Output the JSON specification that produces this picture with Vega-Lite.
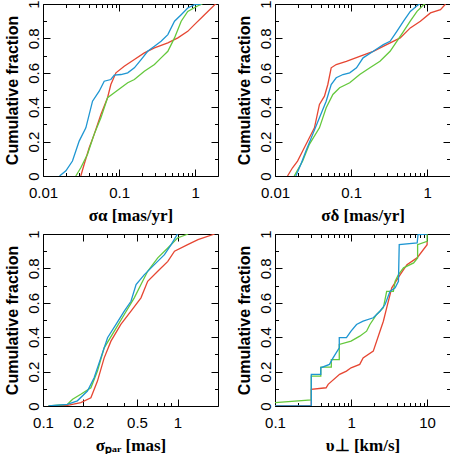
{
"$schema":"https://vega.github.io/schema/vega-lite/v6.json",
"autosize":{"type":"pad"},
"padding":{"left":3,"top":-1,"right":0,"bottom":0},
"background":"white",
"data":{"values":[
{"p":1,"s":"r","i":0,"x":0.0314,"y":0},{"p":1,"s":"r","i":1,"x":0.0348,"y":0.068},{"p":1,"s":"r","i":2,"x":0.0405,"y":0.164},{"p":1,"s":"r","i":3,"x":0.0471,"y":0.242},{"p":1,"s":"r","i":4,"x":0.0577,"y":0.358},{"p":1,"s":"r","i":5,"x":0.0706,"y":0.455},{"p":1,"s":"r","i":6,"x":0.078,"y":0.532},{"p":1,"s":"r","i":7,"x":0.091,"y":0.6},{"p":1,"s":"r","i":8,"x":0.117,"y":0.638},{"p":1,"s":"r","i":9,"x":0.159,"y":0.677},{"p":1,"s":"r","i":10,"x":0.215,"y":0.716},{"p":1,"s":"r","i":11,"x":0.292,"y":0.745},{"p":1,"s":"r","i":12,"x":0.438,"y":0.774},{"p":1,"s":"r","i":13,"x":0.593,"y":0.803},{"p":1,"s":"r","i":14,"x":0.8,"y":0.841},{"p":1,"s":"r","i":15,"x":0.98,"y":0.88},{"p":1,"s":"r","i":16,"x":1.33,"y":0.938},{"p":1,"s":"r","i":17,"x":1.81,"y":0.996},{"p":1,"s":"r","i":18,"x":1.9,"y":1},
{"p":1,"s":"g","i":0,"x":0.027,"y":0},{"p":1,"s":"g","i":1,"x":0.0314,"y":0.048},{"p":1,"s":"g","i":2,"x":0.0385,"y":0.126},{"p":1,"s":"g","i":3,"x":0.047,"y":0.242},{"p":1,"s":"g","i":4,"x":0.0577,"y":0.338},{"p":1,"s":"g","i":5,"x":0.0706,"y":0.455},{"p":1,"s":"g","i":6,"x":0.0865,"y":0.484},{"p":1,"s":"g","i":7,"x":0.106,"y":0.513},{"p":1,"s":"g","i":8,"x":0.13,"y":0.542},{"p":1,"s":"g","i":9,"x":0.159,"y":0.561},{"p":1,"s":"g","i":10,"x":0.215,"y":0.609},{"p":1,"s":"g","i":11,"x":0.292,"y":0.648},{"p":1,"s":"g","i":12,"x":0.357,"y":0.687},{"p":1,"s":"g","i":13,"x":0.438,"y":0.725},{"p":1,"s":"g","i":14,"x":0.536,"y":0.803},{"p":1,"s":"g","i":15,"x":0.656,"y":0.9},{"p":1,"s":"g","i":16,"x":0.8,"y":0.957},{"p":1,"s":"g","i":17,"x":1.09,"y":0.99},{"p":1,"s":"g","i":18,"x":1.25,"y":1},
{"p":1,"s":"b","i":0,"x":0.0165,"y":0},{"p":1,"s":"b","i":1,"x":0.02,"y":0.03},{"p":1,"s":"b","i":2,"x":0.0244,"y":0.087},{"p":1,"s":"b","i":3,"x":0.0299,"y":0.203},{"p":1,"s":"b","i":4,"x":0.0366,"y":0.28},{"p":1,"s":"b","i":5,"x":0.0448,"y":0.435},{"p":1,"s":"b","i":6,"x":0.0548,"y":0.493},{"p":1,"s":"b","i":7,"x":0.0638,"y":0.551},{"p":1,"s":"b","i":8,"x":0.078,"y":0.561},{"p":1,"s":"b","i":9,"x":0.0865,"y":0.586},{"p":1,"s":"b","i":10,"x":0.106,"y":0.59},{"p":1,"s":"b","i":11,"x":0.13,"y":0.6},{"p":1,"s":"b","i":12,"x":0.159,"y":0.629},{"p":1,"s":"b","i":13,"x":0.195,"y":0.677},{"p":1,"s":"b","i":14,"x":0.238,"y":0.725},{"p":1,"s":"b","i":15,"x":0.292,"y":0.754},{"p":1,"s":"b","i":16,"x":0.357,"y":0.783},{"p":1,"s":"b","i":17,"x":0.438,"y":0.822},{"p":1,"s":"b","i":18,"x":0.536,"y":0.9},{"p":1,"s":"b","i":19,"x":0.656,"y":0.938},{"p":1,"s":"b","i":20,"x":0.8,"y":0.977},{"p":1,"s":"b","i":21,"x":0.98,"y":0.996},{"p":1,"s":"b","i":22,"x":1.2,"y":1},
{"p":2,"s":"r","i":0,"x":0.0146,"y":0},{"p":2,"s":"r","i":1,"x":0.017,"y":0.048},{"p":2,"s":"r","i":2,"x":0.0198,"y":0.087},{"p":2,"s":"r","i":3,"x":0.0231,"y":0.145},{"p":2,"s":"r","i":4,"x":0.0283,"y":0.222},{"p":2,"s":"r","i":5,"x":0.033,"y":0.28},{"p":2,"s":"r","i":6,"x":0.0384,"y":0.416},{"p":2,"s":"r","i":7,"x":0.0447,"y":0.464},{"p":2,"s":"r","i":8,"x":0.0495,"y":0.532},{"p":2,"s":"r","i":9,"x":0.0548,"y":0.629},{"p":2,"s":"r","i":10,"x":0.0638,"y":0.648},{"p":2,"s":"r","i":11,"x":0.0867,"y":0.667},{"p":2,"s":"r","i":12,"x":0.13,"y":0.696},{"p":2,"s":"r","i":13,"x":0.196,"y":0.725},{"p":2,"s":"r","i":14,"x":0.294,"y":0.764},{"p":2,"s":"r","i":15,"x":0.443,"y":0.803},{"p":2,"s":"r","i":16,"x":0.601,"y":0.861},{"p":2,"s":"r","i":17,"x":0.816,"y":0.9},{"p":2,"s":"r","i":18,"x":1.107,"y":0.948},{"p":2,"s":"r","i":19,"x":1.5,"y":0.967},{"p":2,"s":"r","i":20,"x":1.75,"y":1},
{"p":2,"s":"g","i":0,"x":0.0179,"y":0},{"p":2,"s":"g","i":1,"x":0.0231,"y":0.087},{"p":2,"s":"g","i":2,"x":0.0283,"y":0.184},{"p":2,"s":"g","i":3,"x":0.0384,"y":0.28},{"p":2,"s":"g","i":4,"x":0.0471,"y":0.397},{"p":2,"s":"g","i":5,"x":0.0577,"y":0.474},{"p":2,"s":"g","i":6,"x":0.0707,"y":0.513},{"p":2,"s":"g","i":7,"x":0.096,"y":0.542},{"p":2,"s":"g","i":8,"x":0.13,"y":0.59},{"p":2,"s":"g","i":9,"x":0.177,"y":0.629},{"p":2,"s":"g","i":10,"x":0.24,"y":0.667},{"p":2,"s":"g","i":11,"x":0.326,"y":0.725},{"p":2,"s":"g","i":12,"x":0.4,"y":0.783},{"p":2,"s":"g","i":13,"x":0.49,"y":0.841},{"p":2,"s":"g","i":14,"x":0.6,"y":0.9},{"p":2,"s":"g","i":15,"x":0.737,"y":0.957},{"p":2,"s":"g","i":16,"x":0.9,"y":0.996},{"p":2,"s":"g","i":17,"x":0.95,"y":1},
{"p":2,"s":"b","i":0,"x":0.0188,"y":0},{"p":2,"s":"b","i":1,"x":0.0219,"y":0.068},{"p":2,"s":"b","i":2,"x":0.0255,"y":0.145},{"p":2,"s":"b","i":3,"x":0.0313,"y":0.242},{"p":2,"s":"b","i":4,"x":0.0384,"y":0.338},{"p":2,"s":"b","i":5,"x":0.0471,"y":0.435},{"p":2,"s":"b","i":6,"x":0.0548,"y":0.532},{"p":2,"s":"b","i":7,"x":0.0638,"y":0.571},{"p":2,"s":"b","i":8,"x":0.0783,"y":0.59},{"p":2,"s":"b","i":9,"x":0.096,"y":0.6},{"p":2,"s":"b","i":10,"x":0.118,"y":0.629},{"p":2,"s":"b","i":11,"x":0.144,"y":0.687},{"p":2,"s":"b","i":12,"x":0.196,"y":0.725},{"p":2,"s":"b","i":13,"x":0.266,"y":0.764},{"p":2,"s":"b","i":14,"x":0.326,"y":0.783},{"p":2,"s":"b","i":15,"x":0.4,"y":0.841},{"p":2,"s":"b","i":16,"x":0.49,"y":0.9},{"p":2,"s":"b","i":17,"x":0.601,"y":0.957},{"p":2,"s":"b","i":18,"x":0.737,"y":0.99},{"p":2,"s":"b","i":19,"x":0.8,"y":1},
{"p":3,"s":"r","i":0,"x":0.11,"y":0},{"p":3,"s":"r","i":1,"x":0.152,"y":0.004},{"p":3,"s":"r","i":2,"x":0.191,"y":0.02},{"p":3,"s":"r","i":3,"x":0.227,"y":0.048},{"p":3,"s":"r","i":4,"x":0.254,"y":0.145},{"p":3,"s":"r","i":5,"x":0.285,"y":0.28},{"p":3,"s":"r","i":6,"x":0.32,"y":0.377},{"p":3,"s":"r","i":7,"x":0.379,"y":0.474},{"p":3,"s":"r","i":8,"x":0.451,"y":0.551},{"p":3,"s":"r","i":9,"x":0.535,"y":0.629},{"p":3,"s":"r","i":10,"x":0.6,"y":0.725},{"p":3,"s":"r","i":11,"x":0.713,"y":0.783},{"p":3,"s":"r","i":12,"x":0.847,"y":0.841},{"p":3,"s":"r","i":13,"x":0.95,"y":0.9},{"p":3,"s":"r","i":14,"x":1.19,"y":0.938},{"p":3,"s":"r","i":15,"x":1.42,"y":0.967},{"p":3,"s":"r","i":16,"x":1.89,"y":1},
{"p":3,"s":"g","i":0,"x":0.11,"y":0},{"p":3,"s":"g","i":1,"x":0.152,"y":0.01},{"p":3,"s":"g","i":2,"x":0.166,"y":0.039},{"p":3,"s":"g","i":3,"x":0.191,"y":0.068},{"p":3,"s":"g","i":4,"x":0.227,"y":0.106},{"p":3,"s":"g","i":5,"x":0.254,"y":0.203},{"p":3,"s":"g","i":6,"x":0.285,"y":0.338},{"p":3,"s":"g","i":7,"x":0.339,"y":0.435},{"p":3,"s":"g","i":8,"x":0.402,"y":0.532},{"p":3,"s":"g","i":9,"x":0.477,"y":0.629},{"p":3,"s":"g","i":10,"x":0.535,"y":0.706},{"p":3,"s":"g","i":11,"x":0.6,"y":0.783},{"p":3,"s":"g","i":12,"x":0.713,"y":0.861},{"p":3,"s":"g","i":13,"x":0.847,"y":0.919},{"p":3,"s":"g","i":14,"x":1.0,"y":0.977},{"p":3,"s":"g","i":15,"x":1.2,"y":1},
{"p":3,"s":"b","i":0,"x":0.11,"y":0},{"p":3,"s":"b","i":1,"x":0.152,"y":0.01},{"p":3,"s":"b","i":2,"x":0.18,"y":0.03},{"p":3,"s":"b","i":3,"x":0.214,"y":0.087},{"p":3,"s":"b","i":4,"x":0.24,"y":0.164},{"p":3,"s":"b","i":5,"x":0.269,"y":0.28},{"p":3,"s":"b","i":6,"x":0.302,"y":0.397},{"p":3,"s":"b","i":7,"x":0.349,"y":0.474},{"p":3,"s":"b","i":8,"x":0.402,"y":0.551},{"p":3,"s":"b","i":9,"x":0.451,"y":0.609},{"p":3,"s":"b","i":10,"x":0.492,"y":0.706},{"p":3,"s":"b","i":11,"x":0.567,"y":0.764},{"p":3,"s":"b","i":12,"x":0.673,"y":0.822},{"p":3,"s":"b","i":13,"x":0.8,"y":0.88},{"p":3,"s":"b","i":14,"x":0.897,"y":0.938},{"p":3,"s":"b","i":15,"x":1.0,"y":1},
{"p":4,"s":"r","i":0,"x":0.1,"y":0},{"p":4,"s":"r","i":1,"x":0.3,"y":0},{"p":4,"s":"r","i":2,"x":0.3,"y":0.097},{"p":4,"s":"r","i":3,"x":0.47,"y":0.106},{"p":4,"s":"r","i":4,"x":0.5,"y":0.126},{"p":4,"s":"r","i":5,"x":0.707,"y":0.184},{"p":4,"s":"r","i":6,"x":0.87,"y":0.203},{"p":4,"s":"r","i":7,"x":1.0,"y":0.222},{"p":4,"s":"r","i":8,"x":1.3,"y":0.242},{"p":4,"s":"r","i":9,"x":1.44,"y":0.28},{"p":4,"s":"r","i":10,"x":1.96,"y":0.319},{"p":4,"s":"r","i":11,"x":2.4,"y":0.435},{"p":4,"s":"r","i":12,"x":2.66,"y":0.493},{"p":4,"s":"r","i":13,"x":2.94,"y":0.571},{"p":4,"s":"r","i":14,"x":3.43,"y":0.687},{"p":4,"s":"r","i":15,"x":4.43,"y":0.764},{"p":4,"s":"r","i":16,"x":5.43,"y":0.822},{"p":4,"s":"r","i":17,"x":7.37,"y":0.861},{"p":4,"s":"r","i":18,"x":10,"y":0.938},{"p":4,"s":"r","i":19,"x":10,"y":0.957},
{"p":4,"s":"g","i":0,"x":0.1,"y":0.02},{"p":4,"s":"g","i":1,"x":0.3,"y":0.035},{"p":4,"s":"g","i":2,"x":0.3,"y":0.174},{"p":4,"s":"g","i":3,"x":0.4,"y":0.174},{"p":4,"s":"g","i":4,"x":0.4,"y":0.226},{"p":4,"s":"g","i":5,"x":0.55,"y":0.226},{"p":4,"s":"g","i":6,"x":0.55,"y":0.27},{"p":4,"s":"g","i":7,"x":0.7,"y":0.27},{"p":4,"s":"g","i":8,"x":0.7,"y":0.358},{"p":4,"s":"g","i":9,"x":1.0,"y":0.377},{"p":4,"s":"g","i":10,"x":1.3,"y":0.406},{"p":4,"s":"g","i":11,"x":1.6,"y":0.435},{"p":4,"s":"g","i":12,"x":1.77,"y":0.474},{"p":4,"s":"g","i":13,"x":2.17,"y":0.532},{"p":4,"s":"g","i":14,"x":2.66,"y":0.571},{"p":4,"s":"g","i":15,"x":2.94,"y":0.667},{"p":4,"s":"g","i":16,"x":3.6,"y":0.667},{"p":4,"s":"g","i":17,"x":3.8,"y":0.725},{"p":4,"s":"g","i":18,"x":4.2,"y":0.764},{"p":4,"s":"g","i":19,"x":4.9,"y":0.803},{"p":4,"s":"g","i":20,"x":6.65,"y":0.832},{"p":4,"s":"g","i":21,"x":7.5,"y":0.861},{"p":4,"s":"g","i":22,"x":7.5,"y":0.938},{"p":4,"s":"g","i":23,"x":10,"y":0.957},{"p":4,"s":"g","i":24,"x":10,"y":1},
{"p":4,"s":"b","i":0,"x":0.1,"y":0},{"p":4,"s":"b","i":1,"x":0.3,"y":0},{"p":4,"s":"b","i":2,"x":0.3,"y":0.184},{"p":4,"s":"b","i":3,"x":0.4,"y":0.184},{"p":4,"s":"b","i":4,"x":0.4,"y":0.222},{"p":4,"s":"b","i":5,"x":0.52,"y":0.242},{"p":4,"s":"b","i":6,"x":0.58,"y":0.28},{"p":4,"s":"b","i":7,"x":0.7,"y":0.338},{"p":4,"s":"b","i":8,"x":0.7,"y":0.397},{"p":4,"s":"b","i":9,"x":0.87,"y":0.397},{"p":4,"s":"b","i":10,"x":1.0,"y":0.435},{"p":4,"s":"b","i":11,"x":1.18,"y":0.474},{"p":4,"s":"b","i":12,"x":1.44,"y":0.493},{"p":4,"s":"b","i":13,"x":1.96,"y":0.513},{"p":4,"s":"b","i":14,"x":2.4,"y":0.551},{"p":4,"s":"b","i":15,"x":2.8,"y":0.59},{"p":4,"s":"b","i":16,"x":3.26,"y":0.667},{"p":4,"s":"b","i":17,"x":3.8,"y":0.687},{"p":4,"s":"b","i":18,"x":4.2,"y":0.725},{"p":4,"s":"b","i":19,"x":4.3,"y":0.938},{"p":4,"s":"b","i":20,"x":7.4,"y":0.948},{"p":4,"s":"b","i":21,"x":7.6,"y":0.996},{"p":4,"s":"b","i":22,"x":10,"y":1}
]},
"columns":2,
"spacing":{"row":58,"column":57},
"bounds":"flush",
"concat":[
{"width":175,"height":172,"transform":[{"filter":"datum.p==1"}],"resolve":{"axis":{"x":"independent","y":"independent"}},
"layer":[
{"mark":{"type":"line","strokeWidth":1.3,"clip":true},"encoding":{
"x":{"field":"x","type":"quantitative","scale":{"type":"log","domain":[0.01,2],"nice":false},"axis":{"orient":"bottom","values":[0.01,0.1,1],"format":"~g","tickSize":-7,"labelPadding":16,"title":"σα [mas/yr]","titleFont":"Liberation Serif","titleFontSize":17,"titlePadding":7}},
"y":{"field":"y","type":"quantitative","scale":{"domain":[0,1],"nice":false,"zero":false},"axis":{"orient":"left","values":[0,0.2,0.4,0.6,0.8,1],"format":"~g","tickSize":-7,"labelPadding":12,"labelAngle":270,"labelAlign":"center","labelBaseline":"alphabetic","title":"Cumulative fraction","titlePadding":6}},
"color":{"field":"s","type":"nominal","scale":{"domain":["r","g","b"],"range":["#e64632","#64c83c","#1e96d2"]},"legend":null},
"order":{"field":"i","type":"quantitative"}}},
{"mark":{"type":"point","opacity":0},"encoding":{
"x":{"field":"x","type":"quantitative","scale":{"type":"log","domain":[0.01,2],"nice":false},"axis":{"orient":"bottom","values":[0.02,0.03,0.04,0.05,0.06,0.07,0.08,0.09,0.2,0.3,0.4,0.5,0.6,0.7,0.8,0.9],"tickSize":-3.5,"labels":false,"title":null}},
"y":{"field":"y","type":"quantitative","scale":{"domain":[0,1],"nice":false,"zero":false},"axis":{"orient":"left","values":[0.1,0.3,0.5,0.7,0.9],"tickSize":-3.5,"labels":false,"title":null}}}},
{"mark":{"type":"point","opacity":0},"encoding":{
"x":{"field":"x","type":"quantitative","scale":{"type":"log","domain":[0.01,2],"nice":false},"axis":{"orient":"top","values":[0.01,0.1,1],"tickSize":-7,"labels":false,"title":null}},
"y":{"field":"y","type":"quantitative","scale":{"domain":[0,1],"nice":false,"zero":false},"axis":{"orient":"right","values":[0,0.2,0.4,0.6,0.8,1],"tickSize":-7,"labels":false,"title":null}}}},
{"mark":{"type":"point","opacity":0},"encoding":{
"x":{"field":"x","type":"quantitative","scale":{"type":"log","domain":[0.01,2],"nice":false},"axis":{"orient":"top","values":[0.02,0.03,0.04,0.05,0.06,0.07,0.08,0.09,0.2,0.3,0.4,0.5,0.6,0.7,0.8,0.9],"tickSize":-3.5,"labels":false,"title":null}},
"y":{"field":"y","type":"quantitative","scale":{"domain":[0,1],"nice":false,"zero":false},"axis":{"orient":"right","values":[0.1,0.3,0.5,0.7,0.9],"tickSize":-3.5,"labels":false,"title":null}}}}
]},
{"width":175,"height":172,"transform":[{"filter":"datum.p==2"}],"resolve":{"axis":{"x":"independent","y":"independent"}},
"layer":[
{"mark":{"type":"line","strokeWidth":1.3,"clip":true},"encoding":{
"x":{"field":"x","type":"quantitative","scale":{"type":"log","domain":[0.01,2],"nice":false},"axis":{"orient":"bottom","values":[0.01,0.1,1],"format":"~g","tickSize":-7,"labelPadding":16,"title":"σδ [mas/yr]","titleFont":"Liberation Serif","titleFontSize":17,"titlePadding":7}},
"y":{"field":"y","type":"quantitative","scale":{"domain":[0,1],"nice":false,"zero":false},"axis":{"orient":"left","values":[0,0.2,0.4,0.6,0.8,1],"format":"~g","tickSize":-7,"labelPadding":12,"labelAngle":270,"labelAlign":"center","labelBaseline":"alphabetic","title":"Cumulative fraction","titlePadding":6}},
"color":{"field":"s","type":"nominal","scale":{"domain":["r","g","b"],"range":["#e64632","#64c83c","#1e96d2"]},"legend":null},
"order":{"field":"i","type":"quantitative"}}},
{"mark":{"type":"point","opacity":0},"encoding":{
"x":{"field":"x","type":"quantitative","scale":{"type":"log","domain":[0.01,2],"nice":false},"axis":{"orient":"bottom","values":[0.02,0.03,0.04,0.05,0.06,0.07,0.08,0.09,0.2,0.3,0.4,0.5,0.6,0.7,0.8,0.9],"tickSize":-3.5,"labels":false,"title":null}},
"y":{"field":"y","type":"quantitative","scale":{"domain":[0,1],"nice":false,"zero":false},"axis":{"orient":"left","values":[0.1,0.3,0.5,0.7,0.9],"tickSize":-3.5,"labels":false,"title":null}}}},
{"mark":{"type":"point","opacity":0},"encoding":{
"x":{"field":"x","type":"quantitative","scale":{"type":"log","domain":[0.01,2],"nice":false},"axis":{"orient":"top","values":[0.01,0.1,1],"tickSize":-7,"labels":false,"title":null}},
"y":{"field":"y","type":"quantitative","scale":{"domain":[0,1],"nice":false,"zero":false},"axis":{"orient":"right","values":[0,0.2,0.4,0.6,0.8,1],"tickSize":-7,"labels":false,"title":null}}}},
{"mark":{"type":"point","opacity":0},"encoding":{
"x":{"field":"x","type":"quantitative","scale":{"type":"log","domain":[0.01,2],"nice":false},"axis":{"orient":"top","values":[0.02,0.03,0.04,0.05,0.06,0.07,0.08,0.09,0.2,0.3,0.4,0.5,0.6,0.7,0.8,0.9],"tickSize":-3.5,"labels":false,"title":null}},
"y":{"field":"y","type":"quantitative","scale":{"domain":[0,1],"nice":false,"zero":false},"axis":{"orient":"right","values":[0.1,0.3,0.5,0.7,0.9],"tickSize":-3.5,"labels":false,"title":null}}}}
]},
{"width":175,"height":172,"transform":[{"filter":"datum.p==3"}],"resolve":{"axis":{"x":"independent","y":"independent"}},
"layer":[
{"mark":{"type":"line","strokeWidth":1.3,"clip":true},"encoding":{
"x":{"field":"x","type":"quantitative","scale":{"type":"log","domain":[0.1,2],"nice":false},"axis":{"orient":"bottom","values":[0.1,0.2,0.5,1],"format":"~g","tickSize":-7,"labelPadding":16,"title":"σₚₐᵣ [mas]","titleFont":"Liberation Serif","titleFontSize":17,"titlePadding":7}},
"y":{"field":"y","type":"quantitative","scale":{"domain":[0,1],"nice":false,"zero":false},"axis":{"orient":"left","values":[0,0.2,0.4,0.6,0.8,1],"format":"~g","tickSize":-7,"labelPadding":12,"labelAngle":270,"labelAlign":"center","labelBaseline":"alphabetic","title":"Cumulative fraction","titlePadding":6}},
"color":{"field":"s","type":"nominal","scale":{"domain":["r","g","b"],"range":["#e64632","#64c83c","#1e96d2"]},"legend":null},
"order":{"field":"i","type":"quantitative"}}},
{"mark":{"type":"point","opacity":0},"encoding":{
"x":{"field":"x","type":"quantitative","scale":{"type":"log","domain":[0.1,2],"nice":false},"axis":{"orient":"bottom","values":[0.3,0.4,0.6,0.7,0.8,0.9],"tickSize":-3.5,"labels":false,"title":null}},
"y":{"field":"y","type":"quantitative","scale":{"domain":[0,1],"nice":false,"zero":false},"axis":{"orient":"left","values":[0.1,0.3,0.5,0.7,0.9],"tickSize":-3.5,"labels":false,"title":null}}}},
{"mark":{"type":"point","opacity":0},"encoding":{
"x":{"field":"x","type":"quantitative","scale":{"type":"log","domain":[0.1,2],"nice":false},"axis":{"orient":"top","values":[0.1,0.2,0.5,1],"tickSize":-7,"labels":false,"title":null}},
"y":{"field":"y","type":"quantitative","scale":{"domain":[0,1],"nice":false,"zero":false},"axis":{"orient":"right","values":[0,0.2,0.4,0.6,0.8,1],"tickSize":-7,"labels":false,"title":null}}}},
{"mark":{"type":"point","opacity":0},"encoding":{
"x":{"field":"x","type":"quantitative","scale":{"type":"log","domain":[0.1,2],"nice":false},"axis":{"orient":"top","values":[0.3,0.4,0.6,0.7,0.8,0.9],"tickSize":-3.5,"labels":false,"title":null}},
"y":{"field":"y","type":"quantitative","scale":{"domain":[0,1],"nice":false,"zero":false},"axis":{"orient":"right","values":[0.1,0.3,0.5,0.7,0.9],"tickSize":-3.5,"labels":false,"title":null}}}}
]},
{"width":175,"height":172,"transform":[{"filter":"datum.p==4"}],"resolve":{"axis":{"x":"independent","y":"independent"}},
"layer":[
{"mark":{"type":"line","strokeWidth":1.3,"clip":true},"encoding":{
"x":{"field":"x","type":"quantitative","scale":{"type":"log","domain":[0.1,20],"nice":false},"axis":{"orient":"bottom","values":[0.1,1,10],"format":"~g","tickSize":-7,"labelPadding":16,"title":"υ⊥ [km/s]","titleFont":"Liberation Serif","titleFontSize":17,"titlePadding":7}},
"y":{"field":"y","type":"quantitative","scale":{"domain":[0,1],"nice":false,"zero":false},"axis":{"orient":"left","values":[0,0.2,0.4,0.6,0.8,1],"format":"~g","tickSize":-7,"labelPadding":12,"labelAngle":270,"labelAlign":"center","labelBaseline":"alphabetic","title":"Cumulative fraction","titlePadding":6}},
"color":{"field":"s","type":"nominal","scale":{"domain":["r","g","b"],"range":["#e64632","#64c83c","#1e96d2"]},"legend":null},
"order":{"field":"i","type":"quantitative"}}},
{"mark":{"type":"point","opacity":0},"encoding":{
"x":{"field":"x","type":"quantitative","scale":{"type":"log","domain":[0.1,20],"nice":false},"axis":{"orient":"bottom","values":[0.2,0.3,0.4,0.5,0.6,0.7,0.8,0.9,2,3,4,5,6,7,8,9],"tickSize":-3.5,"labels":false,"title":null}},
"y":{"field":"y","type":"quantitative","scale":{"domain":[0,1],"nice":false,"zero":false},"axis":{"orient":"left","values":[0.1,0.3,0.5,0.7,0.9],"tickSize":-3.5,"labels":false,"title":null}}}},
{"mark":{"type":"point","opacity":0},"encoding":{
"x":{"field":"x","type":"quantitative","scale":{"type":"log","domain":[0.1,20],"nice":false},"axis":{"orient":"top","values":[0.1,1,10],"tickSize":-7,"labels":false,"title":null}},
"y":{"field":"y","type":"quantitative","scale":{"domain":[0,1],"nice":false,"zero":false},"axis":{"orient":"right","values":[0,0.2,0.4,0.6,0.8,1],"tickSize":-7,"labels":false,"title":null}}}},
{"mark":{"type":"point","opacity":0},"encoding":{
"x":{"field":"x","type":"quantitative","scale":{"type":"log","domain":[0.1,20],"nice":false},"axis":{"orient":"top","values":[0.2,0.3,0.4,0.5,0.6,0.7,0.8,0.9,2,3,4,5,6,7,8,9],"tickSize":-3.5,"labels":false,"title":null}},
"y":{"field":"y","type":"quantitative","scale":{"domain":[0,1],"nice":false,"zero":false},"axis":{"orient":"right","values":[0.1,0.3,0.5,0.7,0.9],"tickSize":-3.5,"labels":false,"title":null}}}}
]}
],
"config":{"view":{"stroke":"#000","strokeWidth":1},"axis":{"grid":false,"domain":false,"labelFlush":false,"labelOverlap":false,"tickColor":"#000","tickWidth":1,"labelColor":"#000","titleColor":"#000","labelFont":"Liberation Sans","labelFontSize":15,"titleFont":"Liberation Sans","titleFontSize":16,"titleFontWeight":"bold"}}
}
